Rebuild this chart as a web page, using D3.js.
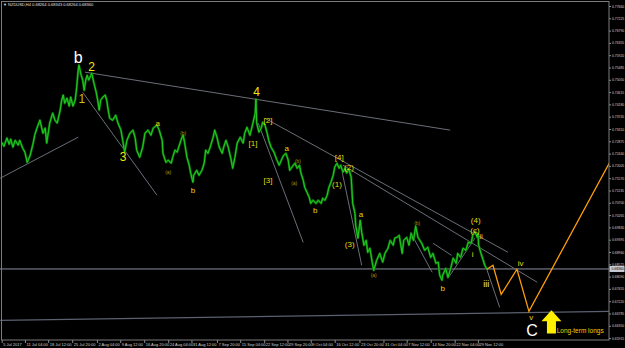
<!DOCTYPE html>
<html>
<head>
<meta charset="utf-8">
<script src="https://cdnjs.cloudflare.com/ajax/libs/d3/7.8.5/d3.min.js"></script>
<style>
  body { margin: 0; background: #000; }
  svg { display: block; font-family: "Liberation Sans", Arial, sans-serif; }
</style>
</head>
<body>
<div id="chart"></div>
<script>
// NZDUSD H4 closes, [bar index, price]
var series = [
  [0,.7284],[3,.7270],[7,.7299],[10,.7277],[12,.7295],[15,.7267],[18,.7291],[22,.7274],[24,.7291],[28,.7263],
  [31,.7249],[34,.7213],[38,.7238],[42,.7281],[44,.7309],[47,.7334],[51,.7362],[55,.7316],[58,.7334],[60,.7281],
  [64,.7352],[68,.7387],[71,.7362],[74,.7352],[78,.7398],[80,.7433],[82,.7451],[84,.7422],[87,.7440],[90,.7412],
  [92,.7444],[95,.7412],[98,.7433],[100,.7479],[102,.7539],[103,.7557],[106,.7521],[108,.7504],[110,.7468],[112,.7504],
  [114,.7521],[116,.7504],[119,.7521],[120,.7529],[123,.7493],[126,.7461],[128,.7433],[130,.7398],[132,.7433],[135,.7444],
  [138,.7451],[140,.7433],[142,.7398],[144,.7369],[148,.7362],[152,.7380],[155,.7352],[159,.7327],[162,.7281],[164,.7249],
  [167,.7291],[171,.7316],[175,.7327],[178,.7299],[180,.7256],[184,.7231],[188,.7267],[191,.7316],[195,.7327],[199,.7309],
  [202,.7334],[207,.7345],[210,.7327],[214,.7291],[215,.7245],[219,.7213],[222,.7221],[226,.7210],[228,.7231],[231,.7256],
  [234,.7249],[236,.7267],[240,.7299],[242,.7309],[244,.7281],[247,.7231],[250,.7203],[252,.7175],[255,.7143],[256,.7167],
  [260,.7185],[263,.7167],[267,.7185],[270,.7210],[272,.7256],[275,.7245],[278,.7267],[282,.7302],[284,.7327],[287,.7302],
  [290,.7267],[294,.7245],[296,.7267],[299,.7291],[302,.7267],[306,.7221],[308,.7192],[311,.7231],[314,.7281],[318,.7302],
  [322,.7281],[324,.7316],[327,.7337],[331,.7309],[335,.7352],[338,.7387],[339,.7437],[340,.7352],[343,.7320],[346,.7334],
  [348,.7355],[351,.7345],[354,.7316],[356,.7291],[359,.7267],[363,.7249],[367,.7221],[370,.7203],[374,.7228],[376,.7238],
  [379,.7245],[382,.7221],[384,.7185],[387,.7196],[391,.7210],[394,.7192],[397,.7203],[399,.7175],[402,.7150],[404,.7125],
  [407,.7107],[410,.7090],[412,.7068],[415,.7079],[419,.7068],[422,.7079],[426,.7068],[428,.7086],[431,.7079],[434,.7097],
  [436,.7122],[439,.7143],[442,.7167],[444,.7196],[447,.7210],[450,.7192],[452,.7203],[455,.7178],[458,.7192],[460,.7175],
  [463,.7189],[466,.7160],[467,.7114],[468,.7068],[471,.7033],[472,.6991],[475,.6945],[478,.7008],[480,.6966],[483,.6920],
  [486,.6937],[488,.6895],[491,.6909],[494,.6860],[496,.6831],[500,.6867],[504,.6891],[508,.6860],[511,.6891],[515,.6909],
  [518,.6937],[522,.6920],[524,.6945],[527,.6948],[530,.6955],[534,.6891],[536,.6937],[540,.6948],[543,.6920],[546,.6962],
  [549,.6937],[552,.6987],[555,.6948],[560,.6927],[564,.6902],[568,.6913],[572,.6877],[575,.6891],[579,.6856],[582,.6860],
  [584,.6814],[587,.6796],[588,.6814],[592,.6838],[595,.6806],[599,.6842],[602,.6874],[606,.6856],[608,.6891],[612,.6877],
  [615,.6909],[619,.6902],[622,.6930],[626,.6927],[628,.6955],[631,.6969],[634,.6948],[635,.6962],[636,.6920],[639,.6891],
  [642,.6867],[644,.6849],[647,.6835]
];

// projected path (orange)
var projection = [[647,.6835],[655,.6849],[666,.6746],[687,.6835],[703,.6686],[810,.7210]];

var priceTicks = [0.77660,0.77225,0.76790,0.76355,0.75920,0.75485,0.75050,0.74615,0.74180,0.73745,
                  0.73310,0.72875,0.72440,0.72005,0.71570,0.71135,0.70700,0.70265,0.69830,0.69395,
                  0.68960,0.68525,0.68090,0.67655,0.67220,0.66785,0.66350,0.65915];

var dateBars = [0,31,62,94,127,158,190,222,253,287,318,350,381,412,444,477,509,540,572,604,635];
var dateLabels = ["5 Jul 2017","11 Jul 04:00","18 Jul 12:00","25 Jul 20:00","2 Aug 04:00","9 Aug 12:00",
                  "16 Aug 20:00","24 Aug 04:00","31 Aug 12:00","7 Sep 20:00","15 Sep 04:00","22 Sep 12:00",
                  "29 Sep 20:00","9 Oct 04:00","16 Oct 12:00","23 Oct 20:00","31 Oct 04:00","7 Nov 12:00",
                  "14 Nov 20:00","22 Nov 04:00","29 Nov 12:00"];

var lastPrice = 0.6836;
var titleText = "\u25BC NZDUSD,H4  0.68264 0.68343 0.68264 0.68360";

// trend lines, [bar1, price1, bar2, price2]
var trendLines = [
  [-2,.7157,102,.7302],
  [111,.7532,598,.7327],
  [108,.7461,207,.7097],
  [342,.7352,402,.6930],
  [351,.7369,675,.6895],
  [455,.7203,714,.6789],
  [454,.7178,480,.6849],
  [545,.6966,574,.6824],
  [575,.6927,600,.6884],
  [595,.6803,631,.6945],
  [635,.6927,664,.6700]
];
var supportLine = [[-2,.6654],[812,.6686]];

// wave counts, [text, bar, price, kind]
var waveLabels = [
  ["b",102,.7564,"big"],["2",120,.7536,"major"],["1",107,.7422,"dim"],["3",162,.7217,"major"],["4",340,.7447,"major"],
  ["a",208,.7341,"minor"],["(b)",242,.7309,"tiny"],["(a)",222,.7171,"tiny"],["b",255,.7104,"minor"],
  ["[1]",335,.7270,"minor"],["[2]",355,.7352,"minor"],["[3]",355,.7139,"minor"],["a",380,.7253,"minor"],
  ["(b)",395,.7210,"tiny"],["(a)",390,.7132,"tiny"],["b",418,.7033,"minor"],["[4]",450,.7221,"minor"],
  ["(2)",463,.7185,"minor"],["(1)",447,.7125,"minor"],["a",479,.7019,"minor"],["(3)",464,.6913,"minor"],
  ["(a)",496,.6806,"tiny"],["(b)",554,.6991,"tiny"],["b",588,.6757,"minor"],["(4)",632,.7000,"minor"],
  ["(c)",631,.6964,"minor"],["i",628,.6877,"roman"],["ii",639,.6941,"roman"],["iii",646,.6771,"pale"],
  ["iv",692,.6845,"roman"],["v",706,.6654,"roman"],["C",707,.6598,"big"],["Long-term longs",740,.6608,"note"]
];
var arrowAt = [733, .6690, .6608];

function init(){
  var w = 625;
  var h = 348;
  var plotRight = 609;
  var plotBottom = 340;

  var labelStyle = {
    big:   {size: 16,  fill: "#ffffff", anchor: "middle"},
    major: {size: 12,  fill: "#f2e60c", anchor: "middle"},
    dim:   {size: 12,  fill: "#c9bf08", anchor: "middle"},
    minor: {size: 8,   fill: "#e8d80a", anchor: "middle"},
    tiny:  {size: 5,   fill: "#a39500", anchor: "middle"},
    roman: {size: 8,   fill: "#e8d80a", anchor: "middle"},
    pale:  {size: 9,   fill: "#f0eea0", anchor: "middle"},
    note:  {size: 6.5, fill: "#e8d400", anchor: "start"}
  };

  var xScale = d3.scaleLinear()
                 .domain([0, 810])
                 .range([1.7, 609.2]);

  var yScale = d3.scaleLinear()
                 .domain([0.77660, 0.65915])
                 .range([6, 338.1]);

  var svg = d3.select("#chart")
              .append("svg")
              .attr("width", w)
              .attr("height", h);

  svg.append("rect")
     .attr("width", w)
     .attr("height", h)
     .attr("fill", "#000");

  svg.append("clipPath")
     .attr("id", "plot")
     .append("rect")
     .attr("x", 0)
     .attr("y", 0)
     .attr("width", plotRight)
     .attr("height", plotBottom);

  var plot = svg.append("g").attr("clip-path", "url(#plot)");

  // support line + current price line
  plot.append("line")
      .attr("x1", xScale(supportLine[0][0]))
      .attr("y1", yScale(supportLine[0][1]))
      .attr("x2", xScale(supportLine[1][0]))
      .attr("y2", yScale(supportLine[1][1]))
      .attr("stroke", "#5b6170")
      .attr("stroke-width", 1.2);

  plot.append("line")
      .attr("x1", 0)
      .attr("x2", plotRight)
      .attr("y1", yScale(lastPrice))
      .attr("y2", yScale(lastPrice))
      .attr("stroke", "#8a909e")
      .attr("stroke-width", 1);

  plot.selectAll("line.trend")
      .data(trendLines)
      .enter()
      .append("line")
      .attr("class", "trend")
      .attr("x1", function(d){ return xScale(d[0]); })
      .attr("y1", function(d){ return yScale(d[1]); })
      .attr("x2", function(d){ return xScale(d[2]); })
      .attr("y2", function(d){ return yScale(d[3]); })
      .attr("stroke", "#767a86")
      .attr("stroke-width", 0.9);

  var line = d3.line()
               .x(function(d){ return xScale(d[0]); })
               .y(function(d){ return yScale(d[1]); });

  plot.append("path")
      .datum(series)
      .attr("d", line)
      .attr("fill", "none")
      .attr("stroke", "#0a720a")
      .attr("stroke-width", 2.3)
      .attr("stroke-linejoin", "round");

  plot.append("path")
      .datum(series)
      .attr("d", line)
      .attr("fill", "none")
      .attr("stroke", "#22cc22")
      .attr("stroke-width", 1);

  plot.append("path")
      .datum(projection)
      .attr("d", line)
      .attr("fill", "none")
      .attr("stroke", "#ff9d0a")
      .attr("stroke-width", 1.3);

  // arrow
  var ax = xScale(arrowAt[0]);
  var ty = yScale(arrowAt[1]);
  var by = yScale(arrowAt[2]);
  plot.append("polygon")
      .attr("points", [
        [ax, ty], [ax + 10, ty + 11], [ax + 4.5, ty + 11], [ax + 4.5, by],
        [ax - 4.5, by], [ax - 4.5, ty + 11], [ax - 10, ty + 11]
      ].join(" "))
      .attr("fill", "#ffee00");

  plot.selectAll("text.wave")
      .data(waveLabels)
      .enter()
      .append("text")
      .attr("class", "wave")
      .attr("x", function(d){ return xScale(d[1]); })
      .attr("y", function(d){ return yScale(d[2]); })
      .attr("text-anchor", function(d){ return labelStyle[d[3]].anchor; })
      .attr("font-size", function(d){ return labelStyle[d[3]].size; })
      .attr("fill", function(d){ return labelStyle[d[3]].fill; })
      .text(function(d){ return d[0]; });

  // frame
  svg.append("rect")
     .attr("x", 1.5)
     .attr("y", 1.5)
     .attr("width", plotRight - 1.5)
     .attr("height", plotBottom - 1.5)
     .attr("fill", "none")
     .attr("stroke", "#7c7c7c")
     .attr("stroke-width", 1);

  var yAxis = d3.axisRight(yScale)
                .tickValues(priceTicks)
                .tickFormat(d3.format(".5f"))
                .tickSize(2)
                .tickPadding(1);

  var xAxis = d3.axisBottom(xScale)
                .tickValues(dateBars)
                .tickFormat(function(d, i){ return dateLabels[i]; })
                .tickSize(3)
                .tickPadding(0.5);

  var yg = svg.append("g")
     .attr("transform", "translate(" + plotRight + ",0)")
     .call(yAxis);

  var xg = svg.append("g")
     .attr("transform", "translate(0," + plotBottom + ")")
     .call(xAxis);

  [yg, xg].forEach(function(g){
    g.select(".domain").remove();
    g.selectAll("line").attr("stroke", "#8a8a8a");
    g.selectAll("text")
     .attr("fill", "#d0d0d0")
     .attr("font-family", "\"Liberation Sans\", Arial, sans-serif");
  });

  yg.selectAll("text").attr("font-size", 3.4);
  xg.selectAll("text")
    .attr("font-size", 4)
    .attr("text-anchor", "start")
    .attr("dx", 1);

  // current price tag
  var tag = svg.append("g")
               .attr("transform", "translate(" + plotRight + "," + yScale(lastPrice) + ")");
  tag.append("rect")
     .attr("x", 0.5)
     .attr("y", -3)
     .attr("width", 15)
     .attr("height", 6)
     .attr("fill", "#c8ccd6");
  tag.append("text")
     .attr("x", 2.5)
     .attr("y", 1.3)
     .attr("font-size", 3.4)
     .attr("fill", "#000")
     .text(d3.format(".5f")(lastPrice));

  svg.append("text")
     .attr("x", 3)
     .attr("y", 6)
     .attr("font-size", 4)
     .attr("fill", "#e0e0e0")
     .text(titleText);
}

window.onload = init;
</script>
</body>
</html>
